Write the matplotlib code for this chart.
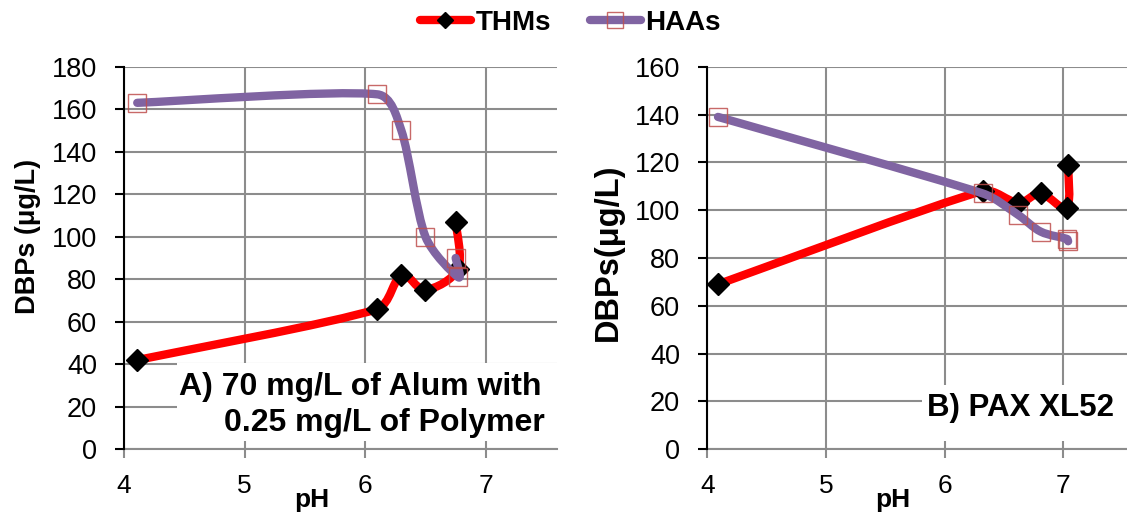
import numpy as np
import matplotlib
matplotlib.use("Agg")
import matplotlib.pyplot as plt
from matplotlib.path import Path
from matplotlib.patches import PathPatch, Rectangle
from matplotlib.lines import Line2D

plt.rcParams['font.family'] = ['Liberation Sans', 'DejaVu Sans']

# panel A: 70 mg/L alum + 0.25 mg/L polymer
ph_a = [4.11, 6.10, 6.30, 6.50, 6.77, 6.75]
thm_a = [42, 66, 82, 75, 85, 107]
haa_a = [163, 167, 150, 100, 81, 90]

# panel B: PAX XL52
ph_b = [4.09, 6.32, 6.62, 6.81, 7.03, 7.04]
thm_b = [69, 108, 103, 107, 101, 119]
haa_b = [139, 107, 98, 91, 88, 87]

x_ticks = [4, 5, 6, 7]
y_ticks_a = list(range(0, 181, 20))
y_ticks_b = list(range(0, 161, 20))

RED = '#ff0000'
PURPLE = '#8064a2'
SQ_EDGE = (0.75, 0.31, 0.30, 0.85)
GRID = '#8c8c8c'


def smooth_path(ax, xs, ys):
    # excel-like smoothed line: cubic bezier through the points, built in display space
    pts = ax.transData.transform(np.column_stack([xs, ys]))
    n = len(pts)
    verts = [pts[0]]
    codes = [Path.MOVETO]
    for i in range(n - 1):
        p0 = pts[max(i - 1, 0)]
        p1 = pts[i]
        p2 = pts[i + 1]
        p3 = pts[min(i + 2, n - 1)]
        seg = np.hypot(*(p2 - p1))
        t1 = (p2 - p0) / 6
        t2 = (p3 - p1) / 6
        # keep the handles short next to short segments so the curve doesn't overshoot
        t1 = t1 * min(1, seg / 3 / max(np.hypot(*t1), 1e-9))
        t2 = t2 * min(1, seg / 3 / max(np.hypot(*t2), 1e-9))
        verts += [p1 + t1, p2 - t2, p2]
        codes += [Path.CURVE4] * 3
    verts = ax.transData.inverted().transform(np.array(verts))
    return Path(verts, codes)


def draw_panel(ax, xmax, ph, thm, haa, yticks, ylabel, ylab_pos, ylab_size, xlab_pos):
    ax.set_xlim(4, xmax)
    ax.set_ylim(0, yticks[-1])
    ax.set_xticks(x_ticks)
    ax.set_yticks(yticks)
    ax.grid(True, color=GRID, lw=1.5)
    ax.set_axisbelow(True)
    for s in ['top', 'right']:
        ax.spines[s].set_visible(False)
    ax.spines['left'].set_color('black')
    ax.spines['left'].set_linewidth(1.5)
    ax.spines['left'].set_zorder(8)
    ax.spines['bottom'].set_color(GRID)
    ax.spines['bottom'].set_linewidth(1.5)
    ax.tick_params(axis='y', length=6.5, width=1.5, color='black', labelsize=19.5, pad=13)
    ax.tick_params(axis='x', length=6.5, width=1.5, color=GRID, labelsize=19, pad=11)

    ax.add_patch(PathPatch(smooth_path(ax, ph, thm), fc='none', ec=RED, lw=6,
                           capstyle='round', joinstyle='round', zorder=2))
    ax.plot(ph, thm, ls='none', marker='D', ms=11, color='black', zorder=3, clip_on=False)
    ax.add_patch(PathPatch(smooth_path(ax, ph, haa), fc='none', ec=PURPLE, lw=6,
                           capstyle='round', joinstyle='round', zorder=4))
    ax.plot(ph, haa, ls='none', marker='s', ms=13.5, mfc='none', mec=SQ_EDGE, mew=1,
            zorder=5, clip_on=False)

    ax.text(ylab_pos[0], ylab_pos[1], ylabel, transform=ax.transAxes, rotation=90,
            ha='center', va='center', fontsize=ylab_size, fontweight='bold')
    ax.text(xlab_pos, -0.133, 'pH', transform=ax.transAxes, ha='center', va='center',
            fontsize=19, fontweight='bold')


fig = plt.figure(figsize=(11.27, 5.21), dpi=100)
ax_a = fig.add_axes([0.1100, 0.1376, 0.3842, 0.7344])
ax_b = fig.add_axes([0.6276, 0.1376, 0.3724, 0.7344])

draw_panel(ax_a, 7.59, ph_a, thm_a, haa_a, y_ticks_a, 'DBPs (μg/L)', (-0.222, 0.557), 19.5, 0.433)
draw_panel(ax_b, 7.536, ph_b, thm_b, haa_b, y_ticks_b, 'DBPs(μg/L)', (-0.235, 0.516), 23.5, 0.443)

# white label boxes over the grid
ax_a.add_patch(Rectangle((0.122, 0.022), 0.9, 0.204, transform=ax_a.transAxes,
                         fc='white', ec='none', zorder=1))
ax_a.text(0.965, 0.142, 'A) 70 mg/L of Alum with', transform=ax_a.transAxes,
          ha='right', va='baseline', fontsize=23, fontweight='bold', zorder=7)
ax_a.text(0.972, 0.049, '0.25 mg/L of Polymer', transform=ax_a.transAxes,
          ha='right', va='baseline', fontsize=23, fontweight='bold', zorder=7)

ax_b.add_patch(Rectangle((0.511, 0.022), 0.6, 0.146, transform=ax_b.transAxes,
                         fc='white', ec='none', zorder=1))
ax_b.text(0.969, 0.087, 'B) PAX XL52', transform=ax_b.transAxes,
          ha='right', va='baseline', fontsize=22.5, fontweight='bold', zorder=7)

handles = [
    Line2D([], [], color=RED, lw=6, solid_capstyle='round', marker='D', ms=8,
           mfc='black', mec='black'),
    Line2D([], [], color=PURPLE, lw=6, solid_capstyle='round', marker='s', ms=11,
           mfc='none', mec=SQ_EDGE, mew=1),
]
fig.legend(handles, ['THMs', 'HAAs'], loc='center', bbox_to_anchor=(0.506, 0.956),
           ncol=2, frameon=False, handlelength=1.85, handletextpad=0.15,
           columnspacing=1.4, prop={'size': 20, 'weight': 'bold'})

fig.savefig('out.png', dpi=100)
